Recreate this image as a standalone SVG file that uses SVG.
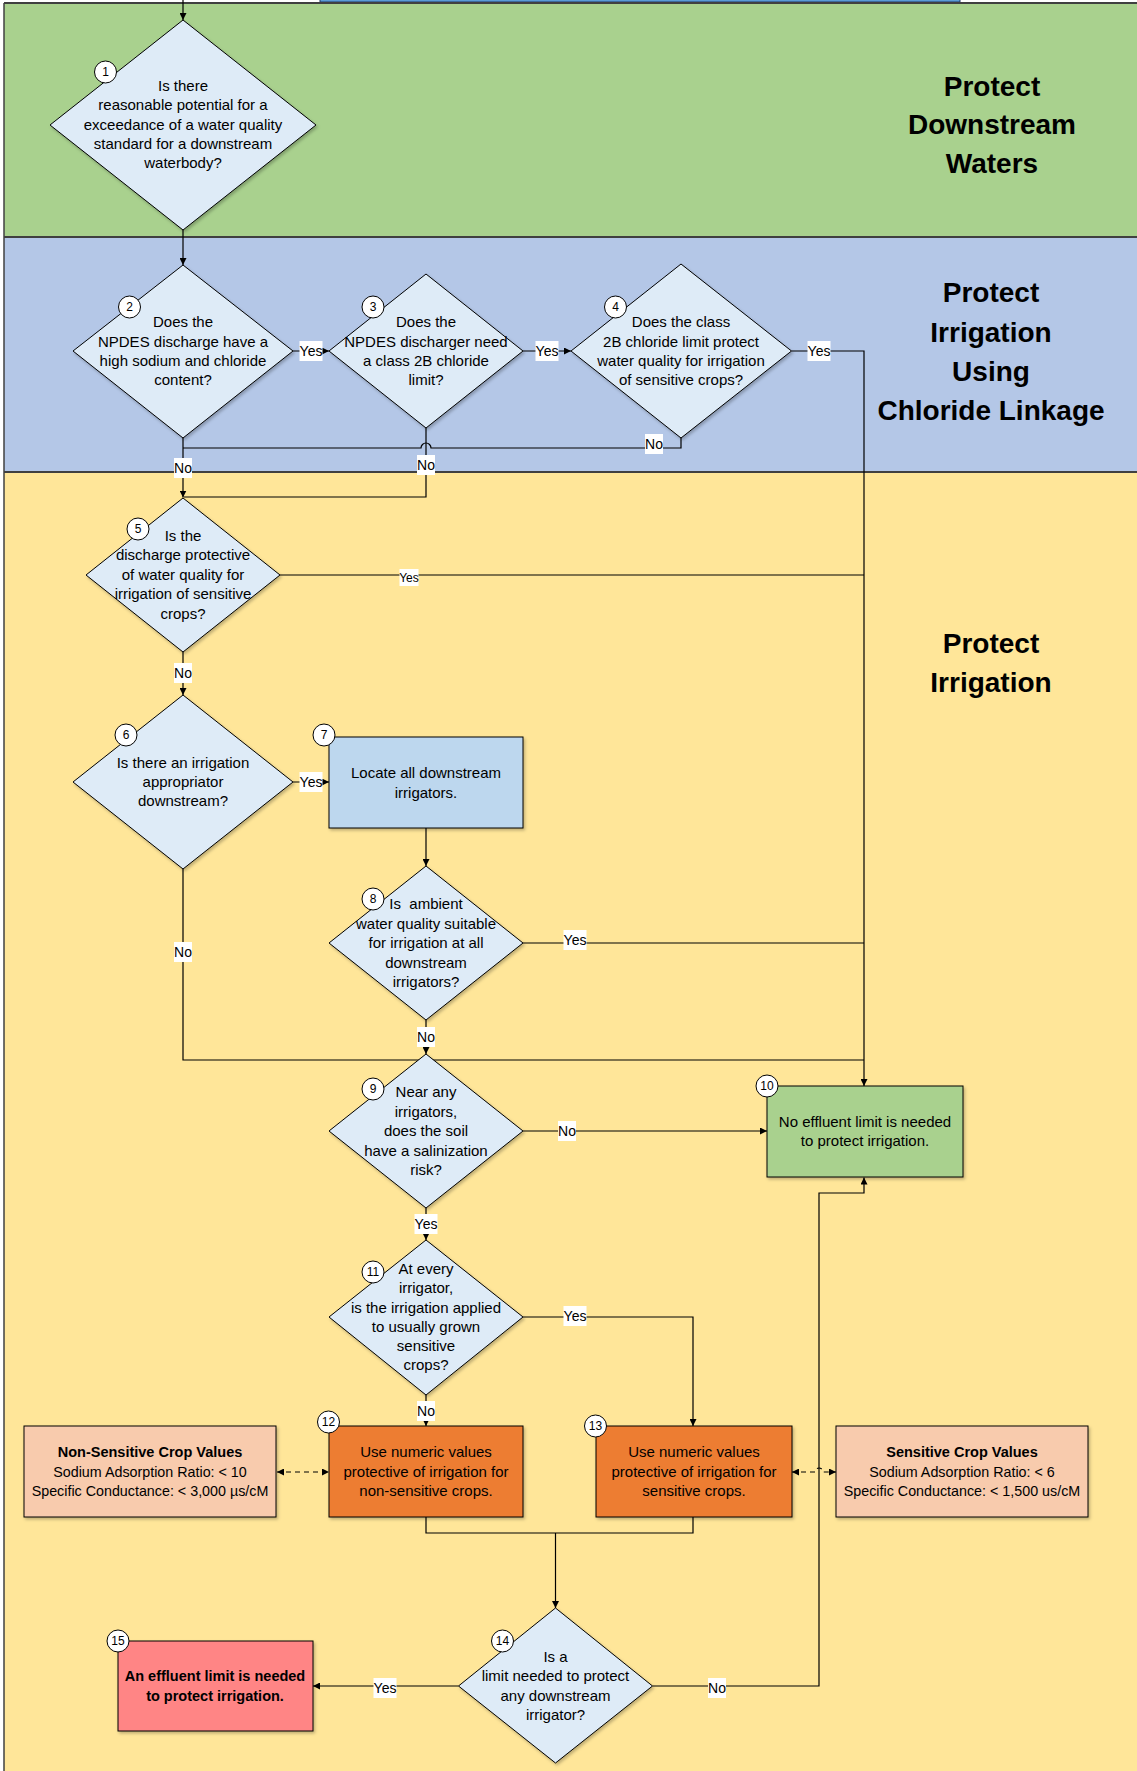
<svg xmlns="http://www.w3.org/2000/svg" width="1137" height="1771" viewBox="0 0 1137 1771">
<defs>
<style>
text{font-family:"Liberation Sans",Arial,sans-serif;fill:#000;}
.lane{stroke:#404040;stroke-width:2;}
.title{font-size:28px;font-weight:bold;text-anchor:middle;}
.dia{fill:#deebf7;stroke:#000;stroke-width:1;filter:url(#sh);}
.box{stroke:#000;stroke-width:1;filter:url(#sh);}
.t{font-size:15px;text-anchor:middle;}
.tc{font-size:14.3px;text-anchor:middle;}
.tb{font-size:14.5px;text-anchor:middle;font-weight:bold;}
.num{fill:#fff;stroke:#000;stroke-width:1;}
.nt{font-size:12px;text-anchor:middle;}
.c{fill:none;stroke:#000;stroke-width:1.2;}
.d{fill:none;stroke:#000;stroke-width:1.2;stroke-dasharray:5,4;}
.lb{fill:#fff;}
.lt{font-size:14px;text-anchor:middle;}
.ls{font-size:12px;text-anchor:middle;}
</style>
<filter id="sh" x="-10%" y="-10%" width="130%" height="130%">
<feDropShadow dx="1.5" dy="2" stdDeviation="1.5" flood-color="#000" flood-opacity="0.25"/>
</filter>
<marker id="a" viewBox="0 0 10 10" refX="10" refY="5" markerWidth="7" markerHeight="7" markerUnits="userSpaceOnUse" orient="auto">
<path d="M0,0 L10,5 L0,10 z" fill="#000"/>
</marker>
<marker id="as" viewBox="0 0 10 10" refX="0" refY="5" markerWidth="7" markerHeight="7" markerUnits="userSpaceOnUse" orient="auto">
<path d="M10,0 L0,5 L10,10 z" fill="#000"/>
</marker>
</defs>

<g id="lanes">
<rect x="0" y="0" width="1137" height="3" fill="#fff"/>
<rect x="320" y="-6" width="640" height="8" fill="#5b9bd5" stroke="#203864" stroke-width="1"/>
<rect x="4" y="3" width="1140" height="234" fill="#a9d18e"/>
<rect x="4" y="237" width="1140" height="235" fill="#b4c7e7"/>
<rect x="4" y="472" width="1140" height="1305" fill="#ffe699"/>
<line class="lane" x1="4" y1="3" x2="1137" y2="3"/>
<line class="lane" x1="4" y1="237" x2="1137" y2="237"/>
<line class="lane" x1="4" y1="472" x2="1137" y2="472"/>
<line x1="4" y1="3" x2="4" y2="1771" stroke="#404040" stroke-width="1.5"/>
<text class="title"><tspan x="992" y="96">Protect</tspan><tspan x="992" y="134">Downstream</tspan><tspan x="992" y="173">Waters</tspan></text>
<text class="title"><tspan x="991" y="302">Protect</tspan><tspan x="991" y="342">Irrigation</tspan><tspan x="991" y="381">Using</tspan><tspan x="991" y="420">Chloride Linkage</tspan></text>
<text class="title"><tspan x="991" y="653">Protect</tspan><tspan x="991" y="692">Irrigation</tspan></text>
</g>

<g id="connectors">
<path class="c" d="M183,0 V20" marker-end="url(#a)"/>
<path class="c" d="M183,230 V265" marker-end="url(#a)"/>
<path class="c" d="M292.6,351 H329" marker-end="url(#a)"/>
<path class="c" d="M523,351 H571" marker-end="url(#a)"/>
<path class="c" d="M791.5,351 H864 V1086" marker-end="url(#a)"/>
<path class="c" d="M681,438 V448 H431 A5,5 0 0 0 421,448 H183"/>
<path class="c" d="M183,438 V497.5" marker-end="url(#a)"/>
<path class="c" d="M426,428 V497 H184"/>
<path class="c" d="M279.6,575 H864"/>
<path class="c" d="M183,652 V695" marker-end="url(#a)"/>
<path class="c" d="M292.6,782 H329" marker-end="url(#a)"/>
<path class="c" d="M426,828 V866" marker-end="url(#a)"/>
<path class="c" d="M521.6,943 H864"/>
<path class="c" d="M183,869 V1060 H864"/>
<path class="c" d="M426,1020 V1054" marker-end="url(#a)"/>
<path class="c" d="M523,1131 H767" marker-end="url(#a)"/>
<path class="c" d="M426,1208 V1240" marker-end="url(#a)"/>
<path class="c" d="M523,1317 H693 V1426" marker-end="url(#a)"/>
<path class="c" d="M426,1395 V1426" marker-end="url(#a)"/>
<path class="d" d="M277,1472 H329" marker-start="url(#as)" marker-end="url(#a)"/>
<path class="d" d="M792,1472 H815 A4,4 0 0 1 823,1472 H836" marker-start="url(#as)" marker-end="url(#a)"/>
<path class="c" d="M426,1517 V1533 H693 V1517"/>
<path class="c" d="M555.5,1533 V1608" marker-end="url(#a)"/>
<path class="c" d="M458.5,1686 H313" marker-end="url(#a)"/>
<path class="c" d="M652.6,1686 H819 V1193 H864 V1177.5" marker-end="url(#a)"/>

<rect class="lb" x="299.5" y="341" width="23" height="20"/><text class="lt" x="311" y="356">Yes</text>
<rect class="lb" x="535.5" y="341" width="23" height="20"/><text class="lt" x="547" y="356">Yes</text>
<rect class="lb" x="807.5" y="341" width="23" height="20"/><text class="lt" x="819" y="356">Yes</text>
<rect class="lb" x="645" y="434" width="18" height="20"/><text class="lt" x="654" y="449">No</text>
<rect class="lb" x="174" y="458" width="18" height="20"/><text class="lt" x="183" y="473">No</text>
<rect class="lb" x="417" y="455" width="18" height="20"/><text class="lt" x="426" y="470">No</text>
<rect class="lb" x="399.5" y="569" width="19" height="17"/><text class="ls" x="409" y="582">Yes</text>
<rect class="lb" x="174" y="663" width="18" height="20"/><text class="lt" x="183" y="678">No</text>
<rect class="lb" x="299.5" y="772" width="23" height="20"/><text class="lt" x="311" y="787">Yes</text>
<rect class="lb" x="563.5" y="930" width="23" height="20"/><text class="lt" x="575" y="945">Yes</text>
<rect class="lb" x="174" y="942" width="18" height="20"/><text class="lt" x="183" y="957">No</text>
<rect class="lb" x="417" y="1027" width="18" height="20"/><text class="lt" x="426" y="1042">No</text>
<rect class="lb" x="558" y="1121" width="18" height="20"/><text class="lt" x="567" y="1136">No</text>
<rect class="lb" x="414.5" y="1214" width="23" height="20"/><text class="lt" x="426" y="1229">Yes</text>
<rect class="lb" x="563.5" y="1306" width="23" height="20"/><text class="lt" x="575" y="1321">Yes</text>
<rect class="lb" x="417" y="1401" width="18" height="20"/><text class="lt" x="426" y="1416">No</text>
<rect class="lb" x="373.5" y="1678" width="23" height="20"/><text class="lt" x="385" y="1693">Yes</text>
<rect class="lb" x="708" y="1678" width="18" height="20"/><text class="lt" x="717" y="1693">No</text>
</g>

<g id="node1">
<polygon class="dia" points="183,20 316,125 183,230 50,125"/>
<text class="t"><tspan x="183" y="91">Is there</tspan><tspan x="183" y="110">reasonable potential for a</tspan><tspan x="183" y="130">exceedance of a water quality</tspan><tspan x="183" y="149">standard for a downstream</tspan><tspan x="183" y="168">waterbody?</tspan></text>
<circle class="num" cx="105.5" cy="72" r="11"/><text class="nt" x="105.5" y="76">1</text>
</g>

<g id="node2">
<polygon class="dia" points="183,265 293,351 183,438 73,351"/>
<text class="t"><tspan x="183" y="327">Does the</tspan><tspan x="183" y="347">NPDES discharge have a</tspan><tspan x="183" y="366">high sodium and chloride</tspan><tspan x="183" y="385">content?</tspan></text>
<circle class="num" cx="129.5" cy="307" r="11"/><text class="nt" x="129.5" y="311">2</text>
</g>

<g id="node3">
<polygon class="dia" points="426,274 523,351 426,428 329,351"/>
<text class="t"><tspan x="426" y="327">Does the</tspan><tspan x="426" y="347">NPDES discharger need</tspan><tspan x="426" y="366">a class 2B chloride</tspan><tspan x="426" y="385">limit?</tspan></text>
<circle class="num" cx="373" cy="307" r="11"/><text class="nt" x="373" y="311">3</text>
</g>

<g id="node4">
<polygon class="dia" points="681,264 791.5,351 681,438 571,351"/>
<text class="t"><tspan x="681" y="327">Does the class</tspan><tspan x="681" y="347">2B chloride limit protect</tspan><tspan x="681" y="366">water quality for irrigation</tspan><tspan x="681" y="385">of sensitive crops?</tspan></text>
<circle class="num" cx="615.5" cy="307" r="11"/><text class="nt" x="615.5" y="311">4</text>
</g>

<g id="node5">
<polygon class="dia" points="183,498 280,575 183,652 86,575"/>
<text class="t"><tspan x="183" y="541">Is the</tspan><tspan x="183" y="560">discharge protective</tspan><tspan x="183" y="580">of water quality for</tspan><tspan x="183" y="599">irrigation of sensitive</tspan><tspan x="183" y="619">crops?</tspan></text>
<circle class="num" cx="138" cy="529" r="11"/><text class="nt" x="138" y="533">5</text>
</g>

<g id="node6">
<polygon class="dia" points="183,695 293,782 183,869 73,782"/>
<text class="t"><tspan x="183" y="768">Is there an irrigation</tspan><tspan x="183" y="787">appropriator</tspan><tspan x="183" y="806">downstream?</tspan></text>
<circle class="num" cx="126" cy="735" r="11"/><text class="nt" x="126" y="739">6</text>
</g>

<g id="node7">
<rect class="box" x="329" y="737" width="194" height="91" fill="#bdd7ee"/>
<text class="t"><tspan x="426" y="778">Locate all downstream</tspan><tspan x="426" y="798">irrigators.</tspan></text>
<circle class="num" cx="324" cy="735" r="11"/><text class="nt" x="324" y="739">7</text>
</g>

<g id="node8">
<polygon class="dia" points="426,866 523,943 426,1020 329,943"/>
<text class="t"><tspan x="426" y="909">Is&#160; ambient</tspan><tspan x="426" y="929">water quality suitable</tspan><tspan x="426" y="948">for irrigation at all</tspan><tspan x="426" y="968">downstream</tspan><tspan x="426" y="987">irrigators?</tspan></text>
<circle class="num" cx="373" cy="899" r="11"/><text class="nt" x="373" y="903">8</text>
</g>

<g id="node9">
<polygon class="dia" points="426,1054 523,1131 426,1208 329,1131"/>
<text class="t"><tspan x="426" y="1097">Near any</tspan><tspan x="426" y="1117">irrigators,</tspan><tspan x="426" y="1136">does the soil</tspan><tspan x="426" y="1156">have a salinization</tspan><tspan x="426" y="1175">risk?</tspan></text>
<circle class="num" cx="373" cy="1089" r="11"/><text class="nt" x="373" y="1093">9</text>
</g>

<g id="node10">
<rect class="box" x="767" y="1086" width="196" height="91" fill="#a9d18e"/>
<text class="t"><tspan x="865" y="1127">No effluent limit is needed</tspan><tspan x="865" y="1146">to protect irrigation.</tspan></text>
<circle class="num" cx="767" cy="1086" r="11"/><text class="nt" x="767" y="1090">10</text>
</g>

<g id="node11">
<polygon class="dia" points="426,1240 523,1317 426,1395 329,1317"/>
<text class="t"><tspan x="426" y="1274">At every</tspan><tspan x="426" y="1293">irrigator,</tspan><tspan x="426" y="1313">is the irrigation applied</tspan><tspan x="426" y="1332">to usually grown</tspan><tspan x="426" y="1351">sensitive</tspan><tspan x="426" y="1370">crops?</tspan></text>
<circle class="num" cx="373" cy="1272" r="11"/><text class="nt" x="373" y="1276">11</text>
</g>

<g id="node12">
<rect class="box" x="329" y="1426" width="194" height="91" fill="#ed7d31"/>
<text class="t"><tspan x="426" y="1457">Use numeric values</tspan><tspan x="426" y="1477">protective of irrigation for</tspan><tspan x="426" y="1496">non-sensitive crops.</tspan></text>
<circle class="num" cx="328.5" cy="1422" r="11"/><text class="nt" x="328.5" y="1426">12</text>
</g>

<g id="node13">
<rect class="box" x="596" y="1426" width="196" height="91" fill="#ed7d31"/>
<text class="t"><tspan x="694" y="1457">Use numeric values</tspan><tspan x="694" y="1477">protective of irrigation for</tspan><tspan x="694" y="1496">sensitive crops.</tspan></text>
<circle class="num" cx="595.5" cy="1426" r="11"/><text class="nt" x="595.5" y="1430">13</text>
</g>

<g id="nonsensitive">
<rect class="box" x="24" y="1426" width="252" height="91" fill="#f8cbad"/>
<text class="tc"><tspan x="150" y="1457" font-weight="bold" font-size="14.5">Non-Sensitive Crop Values</tspan><tspan x="150" y="1477">Sodium Adsorption Ratio: &lt; 10</tspan><tspan x="150" y="1496">Specific Conductance: &lt; 3,000 µs/cM</tspan></text>
</g>

<g id="sensitive">
<rect class="box" x="836" y="1426" width="252" height="91" fill="#f8cbad"/>
<text class="tc"><tspan x="962" y="1457" font-weight="bold" font-size="14.5">Sensitive Crop Values</tspan><tspan x="962" y="1477">Sodium Adsorption Ratio: &lt; 6</tspan><tspan x="962" y="1496">Specific Conductance: &lt; 1,500 us/cM</tspan></text>
</g>

<g id="node14">
<polygon class="dia" points="555.5,1608 652.5,1686 555.5,1763 458.5,1686"/>
<text class="t"><tspan x="555.5" y="1662">Is a</tspan><tspan x="555.5" y="1681">limit needed to protect</tspan><tspan x="555.5" y="1701">any downstream</tspan><tspan x="555.5" y="1720">irrigator?</tspan></text>
<circle class="num" cx="502.5" cy="1641" r="11"/><text class="nt" x="502.5" y="1645">14</text>
</g>

<g id="node15">
<rect class="box" x="118" y="1641" width="195" height="90" fill="#ff8585"/>
<text class="tb"><tspan x="215" y="1681">An effluent limit is needed</tspan><tspan x="215" y="1701">to protect irrigation.</tspan></text>
<circle class="num" cx="118" cy="1641" r="11"/><text class="nt" x="118" y="1645">15</text>
</g>
</svg>
